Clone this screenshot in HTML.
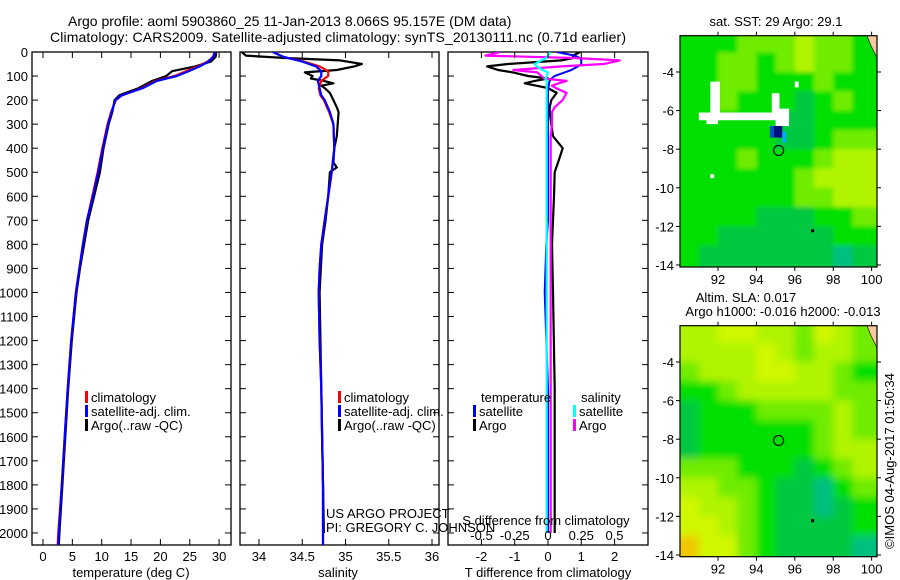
<!DOCTYPE html>
<html><head><meta charset="utf-8"><style>
html,body{margin:0;padding:0;background:#fff;}
svg{display:block;font-family:"Liberation Sans",sans-serif;}
text{font-size:13px;fill:#000;}
.big{font-size:14px;}
</style></head><body>
<svg id="fig" width="900" height="580" viewBox="0 0 900 580" xmlns="http://www.w3.org/2000/svg">
<defs>
<filter id="smooth" x="-10%" y="-10%" width="120%" height="120%"><feGaussianBlur stdDeviation="4"/><feComponentTransfer><feFuncA type="table" tableValues="1 1"/></feComponentTransfer></filter>
<filter id="smooth2" x="-10%" y="-10%" width="120%" height="120%"><feGaussianBlur stdDeviation="2"/><feComponentTransfer><feFuncA type="table" tableValues="1 1"/></feComponentTransfer></filter>
</defs>
<text class="big" x="68" y="26">Argo profile: aoml 5903860_25 11-Jan-2013 8.066S 95.157E (DM data)</text>
<text class="big" x="50" y="42" textLength="576">Climatology: CARS2009. Satellite-adjusted climatology: synTS_20130111.nc (0.71d earlier)</text>
<text x="776" y="26" text-anchor="middle">sat. SST: 29 Argo: 29.1</text>
<text x="746" y="302" text-anchor="middle">Altim. SLA: 0.017</text>
<text x="783" y="316" text-anchor="middle">Argo h1000: -0.016 h2000: -0.013</text>
<text transform="translate(894,461) rotate(-90)" text-anchor="middle">©IMOS 04-Aug-2017 01:50:34</text>
<g id="g"></g>
</svg>
<script>
// ---- data ----
const depths   = [0,20,40,60,80,100,120,150,180,200,250,300,400,500,600,700,800,900,1000,1200,1400,1600,1800,2000,2050];
const tempSat  = [29.3,29.0,28.2,26.7,24.8,22.8,19.4,17.0,13.4,12.3,11.7,11.1,10.2,9.4,8.5,7.5,6.8,6.2,5.6,4.8,4.2,3.7,3.2,2.7,2.6];
const tempClim = [29.2,29.0,28.0,26.4,24.4,22.4,19.2,16.8,13.5,12.4,11.6,11.0,10.1,9.3,8.4,7.5,6.8,6.2,5.6,4.8,4.2,3.7,3.2,2.6,2.5];
const tempArgo = [29.5,29.4,28.6,25.9,22.0,21.0,18.6,16.3,13.0,12.2,11.8,11.2,10.3,9.7,8.7,7.7,7.0,6.3,5.7,4.9,4.3,3.8,3.3,2.8,2.7];
const salSat   = [34.16,34.28,34.5,34.66,34.72,34.72,34.68,34.70,34.72,34.76,34.82,34.86,34.87,34.84,34.80,34.76,34.72,34.70,34.69,34.70,34.72,34.73,34.74,34.74,34.74];
const salClim  = [34.16,34.28,34.52,34.70,34.80,34.80,34.72,34.69,34.71,34.75,34.81,34.86,34.87,34.84,34.80,34.76,34.72,34.70,34.69,34.70,34.72,34.73,34.74,34.74,34.74];
const argoDepths = [0,15,25,35,50,60,75,85,100,110,120,130,140,150,170,200,230,250,300,350,400,460,480,500,600,700,800,1000,1400,2000];
const salArgo  = [33.8,33.85,34.3,34.94,35.19,35.1,34.9,34.53,34.62,34.6,34.75,34.86,34.72,34.76,34.82,34.86,34.9,34.92,34.91,34.9,34.87,34.86,34.9,34.82,34.8,34.77,34.73,34.7,34.72,34.75];
const dTsat    = [0.26,0.8,0.96,1.0,1.0,0.9,0.7,0.5,0.2,0.1,0.05,0.03,0.02,0.01,0,0,0,0,0,0,0,0,0,0,0,0,-0.05,-0.1,0,0];
const dTargo   = [0.96,0.75,0.75,0.4,-1.2,-1.83,-1.5,-1.05,-0.6,0,-0.4,-0.7,-0.35,0,0.26,0.1,0.05,0.05,0.1,0.15,0.44,0.3,0.25,0.2,0.18,0.15,0.12,0.15,0.2,0.2];
const dSsat    = [0.015,0.0,-0.01,-0.05,-0.1,-0.085,-0.04,0.0,-0.01,-0.02,-0.01,-0.01,-0.01,-0.01,-0.01,-0.01,-0.01,-0.01,-0.01,-0.01,-0.01,-0.01,-0.01,-0.01,-0.01,-0.01,-0.01,-0.01,-0.01,-0.01];
const dSargo   = [-0.36,-0.47,0.2,0.54,0.42,0.1,-0.26,-0.08,-0.05,-0.03,0.14,0.08,0.03,0.06,0.14,0.11,0.05,0.03,0.03,0.02,0.02,0.02,0.02,0.02,0.02,0.02,0.02,0.02,0.02,0.02];
const depthTicks = [0,100,200,300,400,500,600,700,800,900,1000,1100,1200,1300,1400,1500,1600,1700,1800,1900,2000];
const tempTicks = [0,5,10,15,20,25,30];
const salTicks = [34,34.5,35,35.5,36];
const dTTicks = [-2,-1,0,1,2];
const dSTicks = [-0.5,-0.25,0,0.25,0.5];
const lonTicks = [92,94,96,98,100];
const latTicks = [-4,-6,-8,-10,-12,-14];
// SST & SLA grids (rows lat -2..-14, cols lon 90..100); 0 teal .. 6 orange
const sstGrid = [
[2,2,2,3,3,3,4,3,3,2],[2,2,3,3,2,3,4,3,3,2],[2,2,3,3,2,2,2,3,2,2],[2,2,3,2,2,2,1,2,3,2],
[2,2,2,2,2,1,1,2,2,2],[2,2,2,2,2,1,1,2,3,3],[2,2,2,3,2,2,2,3,4,4],[2,2,2,2,2,2,3,4,4,4],
[2,2,2,2,2,2,3,3,4,4],[2,2,2,2,1,1,1,2,2,3],[2,2,1,1,1,1,1,1,2,2],[2,1,1,1,1,1,1,1,0,1]];
const slaGrid = [
[4,4,5,5,4,4,3,5,4,3],[4,4,4,4,5,4,3,4,4,3],[3,4,4,4,5,5,4,4,3,2],[2,2,3,4,4,4,4,4,3,3],
[1,2,2,2,3,3,3,3,4,3],[1,2,2,2,2,2,2,3,4,3],[1,2,2,2,2,2,2,3,4,4],[3,3,3,2,2,2,1,2,3,4],
[4,4,3,3,2,1,1,0,2,3],[5,4,4,3,2,1,1,0,1,2],[5,5,4,3,2,1,1,1,1,2],[6,5,5,3,2,1,1,1,1,0]];
// missing-data patches in SST map: [lonWest, latTop, lonEast, latBottom]
const sstGaps = [[91.6,-4.5,92.1,-6.5],[91.0,-6.1,95.7,-6.5],[91.4,-6.5,92.0,-6.7],[94.8,-5.1,95.2,-6.1],[95.0,-5.9,95.7,-6.8],[96.0,-4.5,96.2,-4.8],[91.6,-9.3,91.8,-9.5]];
const argoLon = 95.157, argoLat = -8.066;

// ---- drawing ----
const NS="http://www.w3.org/2000/svg", G=document.getElementById('g');
function el(tag,attrs,parent){const e=document.createElementNS(NS,tag);for(const k in attrs)e.setAttribute(k,attrs[k]);(parent||G).appendChild(e);return e;}
function txt(s,x,y,anchor,name,parent){const t=el('text',{x:x,y:y,'text-anchor':anchor||'start'},parent);t.textContent=s;


return t;}
const yTop=52,yBot=545, dMax=2050;
const yD=d=>yTop+(yBot-yTop)*d/dMax;
function panel(x0,x1,name){
  const g=el('g',{});
  
  
  const r=el('rect',{x:x0,y:yTop,width:x1-x0,height:yBot-yTop,fill:'none',stroke:'#000','stroke-width':1.3},g);
  
  
  depthTicks.forEach(d=>{el('line',{x1:x0,x2:x0+6,y1:yD(d),y2:yD(d),stroke:'#000'},g);el('line',{x1:x1,x2:x1-6,y1:yD(d),y2:yD(d),stroke:'#000'},g);});
  return g;
}
function line(xs,ds,xf,color,w,name,parent){
  const p=xs.map((v,i)=>(i?'L':'M')+xf(v).toFixed(1)+','+yD(ds[i]).toFixed(1)).join('');
  const e=el('path',{d:p,fill:'none',stroke:color,'stroke-width':w,'stroke-linejoin':'round'},parent);
  
  
}
const defs=document.querySelector('defs');
[[32,231,'c1'],[240,439,'c2'],[448,648,'c3']].forEach(([a,b,id])=>{const c=el('clipPath',{id:id},defs);el('rect',{x:a,y:yTop,width:b-a,height:yBot-yTop},c);});

depthTicks.forEach(d=>txt(String(d),28,yD(d)+5,'end','depth-tick-label'));

// Panel 1 temperature
const xT=v=>43+v*5.87;
const p1=panel(32,231,'temperature-panel');
const c1=el('g',{'clip-path':'url(#c1)'},p1);
line(tempArgo,depths,xT,'#000',2.2,'temp-argo-line',c1);
line(tempClim,depths,xT,'#f00',2.2,'temp-climatology-line',c1);
line(tempSat,depths,xT,'#00f',2.2,'temp-satellite-line',c1);
tempTicks.forEach(t=>{el('line',{x1:xT(t),x2:xT(t),y1:yBot,y2:yBot-6,stroke:'#000'},p1);el('line',{x1:xT(t),x2:xT(t),y1:yTop,y2:yTop+6,stroke:'#000'},p1);txt(String(t),xT(t),561,'middle','temp-tick-label');});
txt('temperature (deg C)',131,577,'middle','temp-axis-title');

// Panel 2 salinity
const xS=v=>259+(v-34)*86.5;
const p2=panel(240,439,'salinity-panel');
const c2=el('g',{'clip-path':'url(#c2)'},p2);
line(salArgo,argoDepths,xS,'#000',2.2,'sal-argo-line',c2);
line(salClim,depths,xS,'#f00',2.2,'sal-climatology-line',c2);
line(salSat,depths,xS,'#00f',2.2,'sal-satellite-line',c2);
salTicks.forEach(t=>{el('line',{x1:xS(t),x2:xS(t),y1:yBot,y2:yBot-6,stroke:'#000'},p2);el('line',{x1:xS(t),x2:xS(t),y1:yTop,y2:yTop+6,stroke:'#000'},p2);txt(String(t),xS(t),561,'middle','sal-tick-label');});
txt('salinity',338,577,'middle','sal-axis-title');
txt('US ARGO PROJECT',326,518,'start','project-label');
txt('PI: GREGORY C. JOHNSON',326,532,'start','pi-label');

// Panel 3 differences
const xdT=v=>548+v*33.3, xdS=v=>548+v*133;
const p3=panel(448,648,'difference-panel');
const c3=el('g',{'clip-path':'url(#c3)'},p3);
line(dTargo,argoDepths,xdT,'#000',2.2,'dT-argo-line',c3);
line(dTsat,argoDepths,xdT,'#00f',2,'dT-satellite-line',c3);
line(dSargo,argoDepths,xdS,'#f0f',2.2,'dS-argo-line',c3);
line(dSsat,argoDepths,xdS,'#0ff',2.2,'dS-satellite-line',c3);
dTTicks.forEach(t=>{el('line',{x1:xdT(t),x2:xdT(t),y1:yBot,y2:yBot-6,stroke:'#000'},p3);el('line',{x1:xdT(t),x2:xdT(t),y1:yTop,y2:yTop+6,stroke:'#000'},p3);txt(String(t),xdT(t),561,'middle','dT-tick-label');});
dSTicks.forEach(t=>txt(String(t),xdS(t),540,'middle','dS-tick-label'));
txt('S difference from climatology',546,525,'middle','dS-axis-title');
txt('T difference from climatology',548,577,'middle','dT-axis-title');

// legends
function legItem(x,y,color,label,name){const r=el('rect',{x:x,y:y-11,width:3,height:12,fill:color});


txt(label,x+6,y,'start',name);}
[['#f00','climatology'],['#00f','satellite-adj. clim.'],['#000','Argo(..raw -QC)']].forEach((a,i)=>legItem(85,402+i*14,a[0],a[1],'temp-legend-entry'));
[['#f00','climatology'],['#00f','satellite-adj. clim.'],['#000','Argo(..raw -QC)']].forEach((a,i)=>legItem(338,402+i*14,a[0],a[1],'sal-legend-entry'));
txt('temperature',481,402,'start','diff-legend-temp-header');
txt('salinity',581,402,'start','diff-legend-sal-header');
legItem(473,416,'#00f','satellite','diff-legend-entry');legItem(473,430,'#000','Argo','diff-legend-entry');
legItem(573,416,'#0ff','satellite','diff-legend-entry');legItem(573,430,'#f0f','Argo','diff-legend-entry');

// maps
const palette=['#00c080','#00c840','#00e000','#70ec00','#b0f400','#d0f800','#f0c800'];
const mx0=680,mx1=877,lon0=90.02,pxLon=19.2,pxLat=19.3,latTop=-2.12;
const xL=l=>mx0+(l-lon0)*pxLon;
function map(y0,y1,grid,name,filt,extra){
  const g=el('g',{});
  
  
  const yL=l=>y0+(latTop-l)*pxLat;
  const cid='clip'+name;const c=el('clipPath',{id:cid},defs);el('rect',{x:mx0,y:y0,width:mx1-mx0,height:y1-y0},c);
  const cg=el('g',{'clip-path':'url(#'+cid+')'},g);
  const fg=el('g',{filter:'url(#'+filt+')'},cg);
  grid.forEach((row,r)=>row.forEach((v,k)=>{
    const x=xL(90+k)-(k===0?20:0), w=pxLon+0.6+(k===0?20:0)+(k===row.length-1?20:0);
    const y=yL(-2-r)-(r===0?20:0), h=pxLat+0.6+(r===0?20:0)+(r===grid.length-1?20:0);
    el('rect',{x:x.toFixed(1),y:y.toFixed(1),width:w.toFixed(1),height:h.toFixed(1),fill:palette[v]},fg);
  }));
  if(extra)extra(cg,yL);
  el('path',{d:`M${mx1-10},${y0} L${mx1},${y0} L${mx1},${y0+22} L${mx1-6},${y0+10} Z`,fill:'#f4c8a0',stroke:'#000','stroke-width':0.6},cg);
  const circ=el('circle',{cx:xL(argoLon),cy:yL(argoLat),r:5,fill:'none',stroke:'#000','stroke-width':1.1},g);
  
  
  el('rect',{x:xL(96.9)-1,y:yL(-12.2)-1,width:3,height:3,fill:'#000'},g);
  el('rect',{x:mx0,y:y0,width:mx1-mx0,height:y1-y0,fill:'none',stroke:'#000','stroke-width':1.2},g);
  lonTicks.forEach(t=>{el('line',{x1:xL(t),x2:xL(t),y1:y1,y2:y1+4,stroke:'#000'},g);el('line',{x1:xL(t),x2:xL(t),y1:y0,y2:y0-4,stroke:'#000'},g);txt(String(t),xL(t),y1+17,'middle',name+'-lon-label');});
  latTicks.forEach(t=>{el('line',{x1:mx0,x2:mx0-4,y1:yL(t),y2:yL(t),stroke:'#000'},g);el('line',{x1:mx1,x2:mx1+4,y1:yL(t),y2:yL(t),stroke:'#000'},g);txt(String(t),674,yL(t)+5,'end',name+'-lat-label');});
}
map(35.7,267,sstGrid,'sst-map','smooth2',(cg,yL)=>{
  sstGaps.forEach(a=>el('rect',{x:xL(a[0]),y:yL(a[1]),width:(a[2]-a[0])*pxLon,height:(a[1]-a[3])*pxLat,fill:'#fff'},cg));
  el('rect',{x:xL(94.9),y:yL(-6.8),width:0.45*pxLon,height:0.6*pxLat,fill:'#001080'},cg);
  el('rect',{x:xL(94.7),y:yL(-6.8),width:0.2*pxLon,height:0.6*pxLat,fill:'#0050d0'},cg);
  el('rect',{x:xL(95.35),y:yL(-7.1),width:0.2*pxLon,height:0.55*pxLat,fill:'#00b0f0'},cg);
});
map(325.7,556.7,slaGrid,'sla-map','smooth');
</script>
</body></html>
